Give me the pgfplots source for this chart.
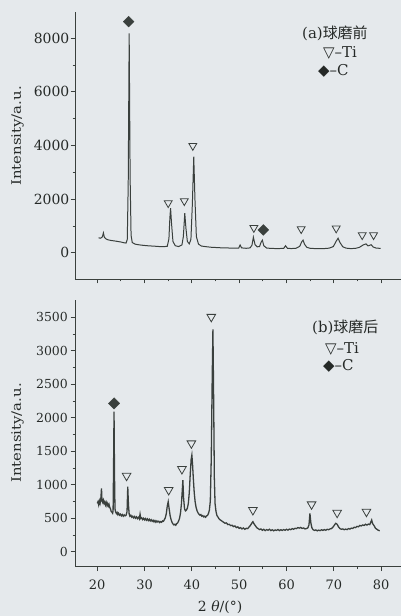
\documentclass[border=0pt]{standalone}
\usepackage{fontspec}
\setmainfont{DejaVu Serif}
\newfontfamily\cjk{Noto Sans CJK SC}
\newfontfamily\sym{DejaVu Sans}
\usepackage{graphicx}
\usepackage{pgfplots}
\pgfplotsset{compat=1.18}
\definecolor{bg}{HTML}{E5E9EC}
\definecolor{ink}{HTML}{3A403D}
\definecolor{txt}{HTML}{252927}
\pgfplotsset{myaxis/.style={
  scale only axis, width=326bp, xmin=15.3, xmax=84.2,
  axis lines*=left, axis line style={-, line width=0.9pt, draw=ink},
  tick align=outside, major tick length=4.5bp, minor tick length=2.5bp,
  tick style={line width=0.8pt, draw=ink},
  xtick={20,30,...,80}, minor x tick num=1, minor y tick num=1,
  /pgf/number format/assume math mode=true, /pgf/number format/1000 sep={},
  tick label style={text=txt},
}}
\begin{document}
\begin{tikzpicture}
\fill[bg] (0,0) rectangle (401bp,616bp);
% ---------- (a) ----------
\begin{axis}[myaxis, at={(75bp,337bp)}, anchor=south west, height=267.3bp,
  ymin=-980, ymax=8990, ytick={0,2000,...,8000}, xticklabels={},
  yticklabel style={font=\fontsize{14}{16}\selectfont, inner sep=1pt}]
\addplot[ink, line width=1pt] coordinates {
(20.3,560)(20.6,540)(20.9,560)(21.1,600)(21.3,740)(21.5,580)(21.8,520)(22.3,480)(23,455)(24,430)(25,400)(25.7,370)(26.1,360)
(26.35,500)(26.55,2600)(26.75,8180)(26.95,2800)(27.15,650)(27.4,380)(28,320)(29,290)(30,270)(31,255)(32,245)(33,232)(34,225)
(34.8,240)(35.15,520)(35.35,1300)(35.5,1660)(35.7,1100)(36.0,420)(36.5,260)(37.2,230)(37.9,290)(38.2,600)(38.5,1480)(38.75,900)
(39.05,420)(39.45,330)(39.8,500)(40.1,1800)(40.4,3580)(40.65,2000)(40.95,600)(41.4,320)(42,250)(43,225)(44,205)(45,195)(46,185)
(47,180)(48,175)(49,170)(49.9,175)(50.2,290)(50.5,180)(51.5,165)(52.3,180)(52.7,280)(53.0,580)(53.35,300)(53.8,220)(54.3,230)
(54.6,380)(54.9,470)(55.2,260)(55.8,175)(56.8,160)(58,155)(59.4,160)(59.8,260)(60.2,165)(61,155)(62,165)(62.8,240)(63.2,400)
(63.5,470)(63.8,320)(64.3,200)(65,165)(66,155)(67,150)(68,155)(69,170)(69.9,230)(70.5,430)(70.9,540)(71.3,380)(71.9,220)
(72.6,170)(73.5,155)(74.5,160)(75.4,200)(76.2,290)(76.8,330)(77.2,255)(77.5,270)(77.9,300)(78.3,215)(78.9,175)(79.9,160)};
\addplot[only marks, mark=triangle, mark size=4.6pt, mark options={rotate=180, draw=ink, fill=bg, line width=0.8pt}] coordinates {
(35.0,1855)(38.4,1930)(40.2,3990)(53.1,930)(63.1,885)(70.5,910)(76.0,660)(78.4,660)};
\addplot[only marks, mark=square*, mark size=3.8pt, mark options={rotate=45, draw=ink, fill=ink}] coordinates {
(26.65,8620)(55.1,850)};
\end{axis}
% ---------- (b) ----------
\begin{axis}[myaxis, at={(75bp,49.3bp)}, anchor=south west, height=266.7bp,
  ymin=-224, ymax=3759, ytick={0,500,...,3500},
  yticklabel style={font=\fontsize{12.5}{14}\selectfont, inner sep=2.5pt},
  xticklabel style={font=\fontsize{13}{15}\selectfont, yshift=-5bp}]
\addplot[ink, line width=1.3pt] coordinates {
(20.0,722)(20.15,745)(20.3,700)(20.45,760)(20.6,720)(20.75,780)(20.9,946)(21.0,760)(21.15,735)(21.3,770)(21.45,720)(21.6,745)
(21.75,700)(21.9,735)(22.05,690)(22.2,720)(22.35,680)(22.5,705)(22.65,660)(22.8,640)(22.95,600)(23.1,590)(23.25,575)(23.35,610)
(23.45,1250)(23.55,2090)(23.65,1150)(23.75,640)(23.9,590)(24.05,570)(24.2,585)(24.35,555)(24.5,575)(24.7,545)(24.9,560)(25.1,535)
(25.3,555)(25.5,530)(25.7,550)(25.9,535)(26.1,545)(26.3,600)(26.45,970)(26.6,700)(26.75,560)(26.9,530)(27.1,545)(27.3,515)
(27.5,530)(27.7,505)(27.9,525)(28.1,500)(28.3,520)(28.5,495)(28.7,515)(28.9,490)(29.05,560)(29.2,495)(29.4,505)(29.6,480)
(29.8,500)(30.0,475)(30.2,495)(30.4,470)(30.6,490)(30.8,465)(31.0,485)(31.2,460)(31.4,478)(31.6,455)(31.8,470)(32.0,445)
(32.2,465)(32.4,440)(32.6,460)(32.8,445)(33.0,455)(33.2,435)(33.4,450)(33.6,440)(33.8,460)(34.0,455)(34.2,480)(34.4,510)
(34.6,570)(34.8,680)(35.0,746)(35.2,640)(35.4,540)(35.6,480)(35.8,440)(36.0,415)(36.2,400)(36.4,410)(36.6,395)(36.8,420)
(37.0,430)(37.2,460)(37.4,500)(37.6,580)(37.8,720)(38.0,950)(38.1,1070)(38.25,800)(38.45,640)(38.65,610)(38.85,622)(39.05,650)
(39.25,720)(39.45,880)(39.65,1150)(39.85,1380)(40.0,1443)(40.15,1300)(40.3,1100)(40.5,880)(40.7,740)(40.9,660)(41.1,610)
(41.3,580)(41.5,560)(41.7,545)(41.9,555)(42.1,530)(42.3,540)(42.5,520)(42.7,530)(42.9,515)(43.1,535)(43.3,540)(43.5,570)
(43.7,620)(43.9,760)(44.1,1400)(44.3,2600)(44.45,3319)(44.6,2300)(44.75,1100)(44.9,720)(45.1,600)(45.3,540)(45.5,520)
(45.7,495)(45.9,480)(46.1,470)(46.4,455)(46.7,440)(47.0,425)(47.3,430)(47.6,405)(47.9,410)(48.2,390)(48.5,395)(48.8,375)
(49.1,385)(49.4,360)(49.7,370)(50.0,349)(50.3,360)(50.6,340)(50.9,355)(51.2,335)(51.5,350)(51.8,345)(52.1,370)(52.4,395)
(52.7,430)(52.9,448)(53.1,420)(53.4,390)(53.7,360)(54.0,345)(54.3,330)(54.6,340)(54.9,320)(55.2,335)(55.5,315)(55.8,330)
(56.1,320)(56.4,335)(56.7,315)(57.0,328)(57.3,312)(57.6,325)(57.9,318)(58.2,332)(58.5,315)(58.8,328)(59.1,318)(59.4,330)
(59.7,320)(60.0,335)(60.3,322)(60.6,338)(60.9,328)(61.2,345)(61.5,335)(61.8,350)(62.1,345)(62.4,360)(62.7,352)(63.0,362)
(63.3,348)(63.6,355)(63.9,340)(64.2,345)(64.5,355)(64.75,400)(64.95,573)(65.15,430)(65.35,360)(65.6,330)(65.9,318)(66.2,325)
(66.5,312)(66.8,322)(67.1,315)(67.4,328)(67.7,318)(68.0,330)(68.3,320)(68.6,335)(68.9,328)(69.2,340)(69.5,345)(69.8,365)
(70.1,395)(70.4,424)(70.7,410)(71.0,370)(71.3,345)(71.6,335)(71.9,340)(72.2,328)(72.5,338)(72.8,330)(73.1,345)(73.4,338)
(73.7,352)(74.0,348)(74.3,365)(74.6,360)(74.9,378)(75.2,372)(75.5,392)(75.8,385)(76.1,400)(76.4,392)(76.7,410)(77.0,398)
(77.3,412)(77.6,405)(77.8,440)(78.0,473)(78.2,420)(78.5,390)(78.8,350)(79.1,335)(79.4,320)(79.7,313)};
\addplot[only marks, mark=triangle, mark size=5pt, mark options={rotate=180, draw=ink, fill=bg, line width=0.8pt}] coordinates {
(26.2,1134)(35.1,921)(37.9,1234)(39.9,1618)(44.1,3507)(52.9,622)(65.3,707)(70.7,582)(76.9,597)};
\addplot[only marks, mark=square*, mark size=4pt, mark options={rotate=45, draw=ink, fill=ink}] coordinates {
(23.55,2215)};
\end{axis}
% ---------- labels ----------
\begin{scope}[every node/.style={text=txt, inner sep=0pt}]
\node[rotate=90, font=\fontsize{13}{15}\selectfont] at (17.5bp,480bp) {\scalebox{1.15}[1]{Intensity/a.u.}};
\node[rotate=90, font=\fontsize{13}{15}\selectfont] at (17.5bp,183bp) {\scalebox{1.15}[1]{Intensity/a.u.}};
\node[font=\fontsize{14}{16}\selectfont] at (220bp,9bp) {2\,\,{\itshape θ}/(°)};
\node[anchor=west, font=\fontsize{15}{17}\selectfont] at (302bp,583bp) {(a){\cjk 球磨前}};
\node[anchor=west, font=\fontsize{15}{17}\selectfont] at (323bp,563bp) {{\sym ▽}–Ti};
\node[anchor=west, font=\fontsize{15}{17}\selectfont] at (318bp,545bp) {{\sym ◆}–C};
\node[anchor=west, font=\fontsize{15}{17}\selectfont] at (312bp,289bp) {(b){\cjk 球磨后}};
\node[anchor=west, font=\fontsize{15}{17}\selectfont] at (325bp,267bp) {{\sym ▽}–Ti};
\node[anchor=west, font=\fontsize{15}{17}\selectfont] at (323bp,250bp) {{\sym ◆}–C};
\end{scope}
\pgfresetboundingbox
\useasboundingbox (0,0) rectangle (401bp,616bp);
\end{tikzpicture}
\end{document}
